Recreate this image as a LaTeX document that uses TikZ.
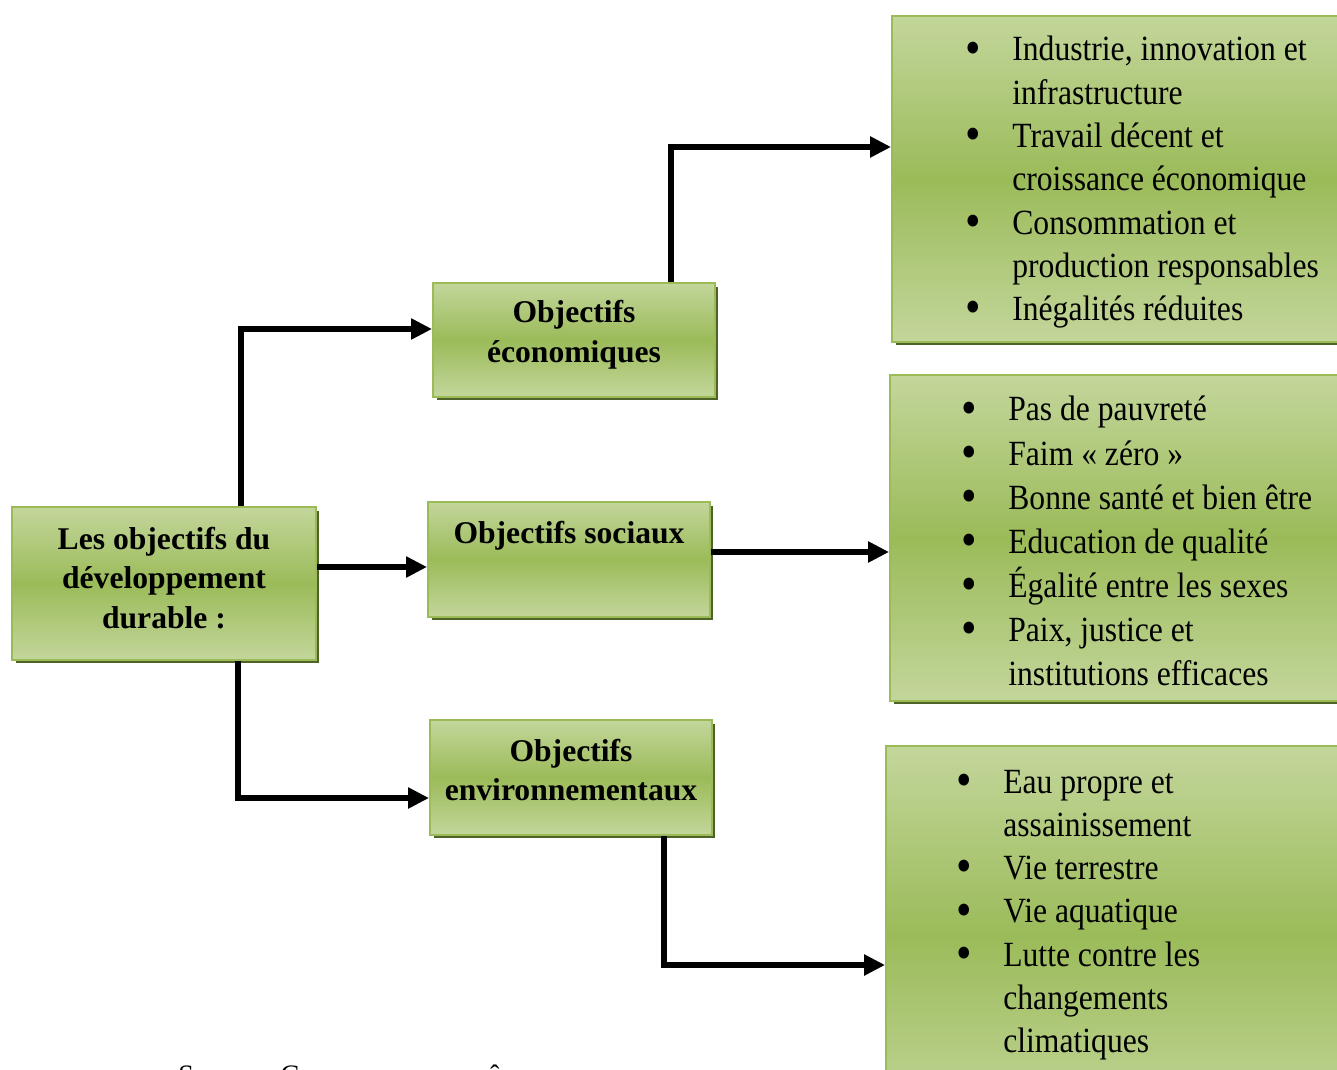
\documentclass[tikz,border=0pt]{standalone}
\usepackage{fontspec}
\setmainfont{Liberation Serif}
\usepackage{graphicx}
\usetikzlibrary{arrows.meta,shadows}
\definecolor{vertclair}{HTML}{C3D69B}
\definecolor{vertfonce}{HTML}{9BBB59}
\definecolor{ombre}{HTML}{4F6228}
\newcommand{\puce}{\raisebox{-1.6pt}{\scalebox{1.4}{\textbullet}}}
\newcommand{\liste}[2][22]{\scalebox{1}[1.12]{\fontsize{18}{#1}\selectfont
  \begin{tabular}[t]{@{}p{0.94cm}@{}l@{}}#2\end{tabular}}}

\begin{document}
\begin{tikzpicture}[
            x=0.02cm,y=-0.02cm,
            boite/.style={draw=vertfonce,line width=1.1pt,inner sep=0pt,
                top color=vertclair,bottom color=vertclair,middle color=vertfonce,
                drop shadow={shadow xshift=0.07cm,shadow yshift=-0.07cm,fill=ombre,opacity=1}},
            titre/.style={align=center,inner sep=0pt,font=\fontsize{18}{22.7}\selectfont\bfseries},
            liste/.style={anchor=base west,inner sep=0pt},
            fleche/.style={line width=3.1pt,line join=miter,-{Triangle[length=0.42cm,width=0.4cm]}}
        ]
            \useasboundingbox (0,0) rectangle (1337,1070);
            % boites de gauche
            \node[boite,minimum width=6.08cm,minimum height=3.06cm] (odd) at (164,583.5) {};
            \node[boite,minimum width=5.64cm,minimum height=2.28cm] (eco) at (574,340) {};
            \node[boite,minimum width=5.64cm,minimum height=2.30cm] (soc) at (569,559.5) {};
            \node[boite,minimum width=5.64cm,minimum height=2.30cm] (env) at (571,777.5) {};
            % boites de droite
            \node[boite,minimum width=9.2cm,minimum height=6.52cm] (r1) at (1122,179) {};
            \node[boite,minimum width=9.2cm,minimum height=6.52cm] (r2) at (1120,538) {};
            \node[boite,minimum width=9.28cm,minimum height=7.58cm] (r3) at (1118,935.5) {};
            % titres
            \node[titre] (odd-t) at (164,578) {Les objectifs du\\développement\\durable :};
            \node[titre] (eco-t) at (574,335) {Objectifs\\économiques};
            \node[titre] (soc-t) at (569,535.5) {Objectifs sociaux};
            \node[titre] (env-t) at (571,770) {Objectifs\\environnementaux};
            % listes
            \node[liste] (r1-l) at (965,61) {\liste{
                \puce & Industrie, innovation et\\
                      & infrastructure\\
                \puce & Travail décent et\\
                      & croissance économique\\
                \puce & Consommation et\\
                      & production responsables\\
                \puce & Inégalités réduites}};
            \node[liste] (r2-l) at (961,421) {\liste[22.4]{
                \puce & Pas de pauvreté\\
                \puce & Faim « zéro »\\
                \puce & Bonne santé et bien être\\
                \puce & Education de qualité\\
                \puce & Égalité entre les sexes\\
                \puce & Paix, justice et\\
                      & institutions efficaces}};
            \node[liste] (r3-l) at (956,793) {\liste{
                \puce & Eau propre et\\
                      & assainissement\\
                \puce & Vie terrestre\\
                \puce & Vie aquatique\\
                \puce & Lutte contre les\\
                      & changements\\
                      & climatiques}};
            \node[anchor=base west,inner sep=0pt,font=\fontsize{16}{19}\selectfont] (source)
                at (178,1084) {Source : Conçu par nous-même};
            % fleches
            \coordinate (c1) at (241,329);
            \coordinate (c2) at (0,567);
            \coordinate (c3) at (238,798);
            \coordinate (c4) at (671,147);
            \coordinate (c5) at (0,552);
            \coordinate (c6) at (664,965);
            \draw[fleche] (odd.north -| c1) |- (eco.west |- c1);
            \draw[fleche] (odd.east |- c2) -- (soc.west |- c2);
            \draw[fleche] (odd.south -| c3) |- (env.west |- c3);
            \draw[fleche] (eco.north -| c4) |- (r1.west |- c4);
            \draw[fleche] (soc.east |- c5) -- (r2.west |- c5);
            \draw[fleche] (env.south -| c6) |- (r3.west |- c6);
        \end{tikzpicture}
\end{document}
